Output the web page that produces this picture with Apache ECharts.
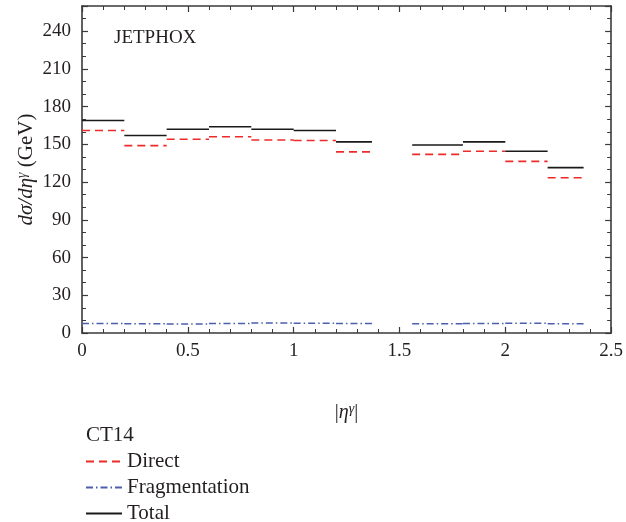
<!DOCTYPE html>
<html><head><meta charset="utf-8">
<script src="https://cdn.jsdelivr.net/npm/echarts@6/dist/echarts.min.js"></script>
<style>html,body{margin:0;padding:0;background:#fff}#c{width:626px;height:522px}</style>
</head><body><div id="c"></div>
<script>
var binLo = [0, 0.2, 0.4, 0.6, 0.8, 1.0, 1.2, 1.56, 1.8, 2.0, 2.2];
var binHi = [0.2, 0.4, 0.6, 0.8, 1.0, 1.2, 1.37, 1.8, 2.0, 2.2, 2.37];
var direct = [161, 149, 154, 156, 153.5, 153, 144, 142, 144.5, 136.5, 123.5];
var fragmentation = [7.5, 7.3, 7.2, 7.6, 8.0, 7.8, 7.6, 7.4, 7.6, 7.8, 7.4];
var total = [169, 157, 162, 164, 162, 161, 152, 149.5, 152, 144.5, 131.5];
var xTicks = [0, 0.5, 1, 1.5, 2, 2.5];
var yTicks = [0, 30, 60, 90, 120, 150, 180, 210, 240];

function steps(vals) {
  var d = [];
  for (var i = 0; i < vals.length; i++) {
    d.push([binLo[i], vals[i]]);
    d.push([binHi[i], vals[i]]);
    d.push([binHi[i], '-']);
  }
  return d;
}
var FONT = 'Liberation Serif';
var TXT = '#231f20';
var AX = '#3a3a3a';
var chart = echarts.init(document.getElementById('c'));
function axLine() { return {show: true, onZero: false, lineStyle: {color: AX, width: 1.6}}; }
function tick() { return {show: true, inside: true, length: 6, lineStyle: {color: AX, width: 1.2}}; }
var option = {
  backgroundColor: '#fff',
  animation: false,
  textStyle: {fontFamily: FONT, color: TXT},
  title: {text: 'CT14', left: 81, top: 420, textStyle: {fontFamily: FONT, fontSize: 21, fontWeight: 'normal', color: TXT}},
  legend: {
    orient: 'vertical', left: 80, top: 446, height: 90, itemGap: 5, itemWidth: 36, itemHeight: 14,
    data: ['Direct', 'Fragmentation', 'Total'],
    itemStyle: {opacity: 0},
    textStyle: {fontFamily: FONT, fontSize: 21, color: TXT}
  },
  graphic: [{type: 'text', left: 114, top: 29, style: {text: 'JETPHOX', font: '19px "Liberation Serif"', fill: TXT}}],
  grid: {left: 82, right: 14, top: 6, bottom: 189},
  xAxis: [{
    type: 'value', min: 0, max: 2.5, interval: 0.5, position: 'bottom',
    name: '|{e|η}{s|γ}|', nameLocation: 'middle', nameGap: 69,
    nameTextStyle: {fontFamily: FONT, fontSize: 20, color: TXT, rich: {
      e: {fontFamily: FONT, fontSize: 20, fontStyle: 'italic', color: TXT},
      s: {fontFamily: FONT, fontSize: 14, fontStyle: 'italic', color: TXT, verticalAlign: 'top', padding: [0, 0, 8, 0]}
    }},
    axisLine: axLine(),
    axisTick: tick(),
    minorTick: {show: true, splitNumber: 5, length: 4, lineStyle: {color: AX, width: 1}},
    axisLabel: {fontFamily: FONT, fontSize: 19, color: TXT, margin: 9,
      formatter: function (v) { return xTicks.indexOf(v) >= 0 ? String(v) : ''; }},
    splitLine: {show: false}
  }, {
    type: 'value', min: 0, max: 2.5, interval: 0.5, position: 'top',
    axisLine: axLine(),
    axisTick: tick(),
    minorTick: {show: true, splitNumber: 5, length: 4, lineStyle: {color: AX, width: 1}},
    axisLabel: {show: false}, splitLine: {show: false}
  }],
  yAxis: [{
    type: 'value', min: 0, max: 260, interval: 30, position: 'left',
    name: '{i|dσ/dη}{s|γ}{n| (GeV)}', nameLocation: 'middle', nameGap: 45, nameRotate: 90,
    nameMoveOverlap: false,
    nameTextStyle: {rich: {
      i: {fontFamily: FONT, fontSize: 21, fontStyle: 'italic', color: TXT},
      s: {fontFamily: FONT, fontSize: 14, fontStyle: 'italic', color: TXT, verticalAlign: 'top', padding: [0, 0, 8, 0]},
      n: {fontFamily: FONT, fontSize: 21, color: TXT}
    }},
    axisLine: axLine(),
    axisTick: tick(),
    minorTick: {show: true, splitNumber: 3, length: 4, lineStyle: {color: AX, width: 1}},
    axisLabel: {fontFamily: FONT, fontSize: 19, color: TXT, margin: 11,
      formatter: function (v) { return yTicks.indexOf(v) >= 0 ? String(v) : ''; }},
    splitLine: {show: false}
  }, {
    type: 'value', min: 0, max: 260, interval: 30, position: 'right',
    axisLine: axLine(),
    axisTick: tick(),
    minorTick: {show: true, splitNumber: 3, length: 4, lineStyle: {color: AX, width: 1}},
    axisLabel: {show: false}, splitLine: {show: false}
  }],
  series: [{
    name: 'Direct', type: 'line', xAxisIndex: 0, yAxisIndex: 0, symbol: 'none', connectNulls: false,
    color: '#ee2b2b',
    lineStyle: {color: '#ee2b2b', width: 1.6, type: [8, 5]},
    data: steps(direct)
  }, {
    name: 'Fragmentation', type: 'line', xAxisIndex: 0, yAxisIndex: 0, symbol: 'none', connectNulls: false,
    color: '#4b5fae',
    lineStyle: {color: '#4b5fae', width: 1.4, type: [7, 3, 1.5, 3]},
    data: steps(fragmentation)
  }, {
    name: 'Total', type: 'line', xAxisIndex: 0, yAxisIndex: 0, symbol: 'none', connectNulls: false,
    color: '#1a1a1a',
    lineStyle: {color: '#1a1a1a', width: 1.6},
    data: steps(total)
  }]
};
chart.setOption(option);
</script>
</body></html>
